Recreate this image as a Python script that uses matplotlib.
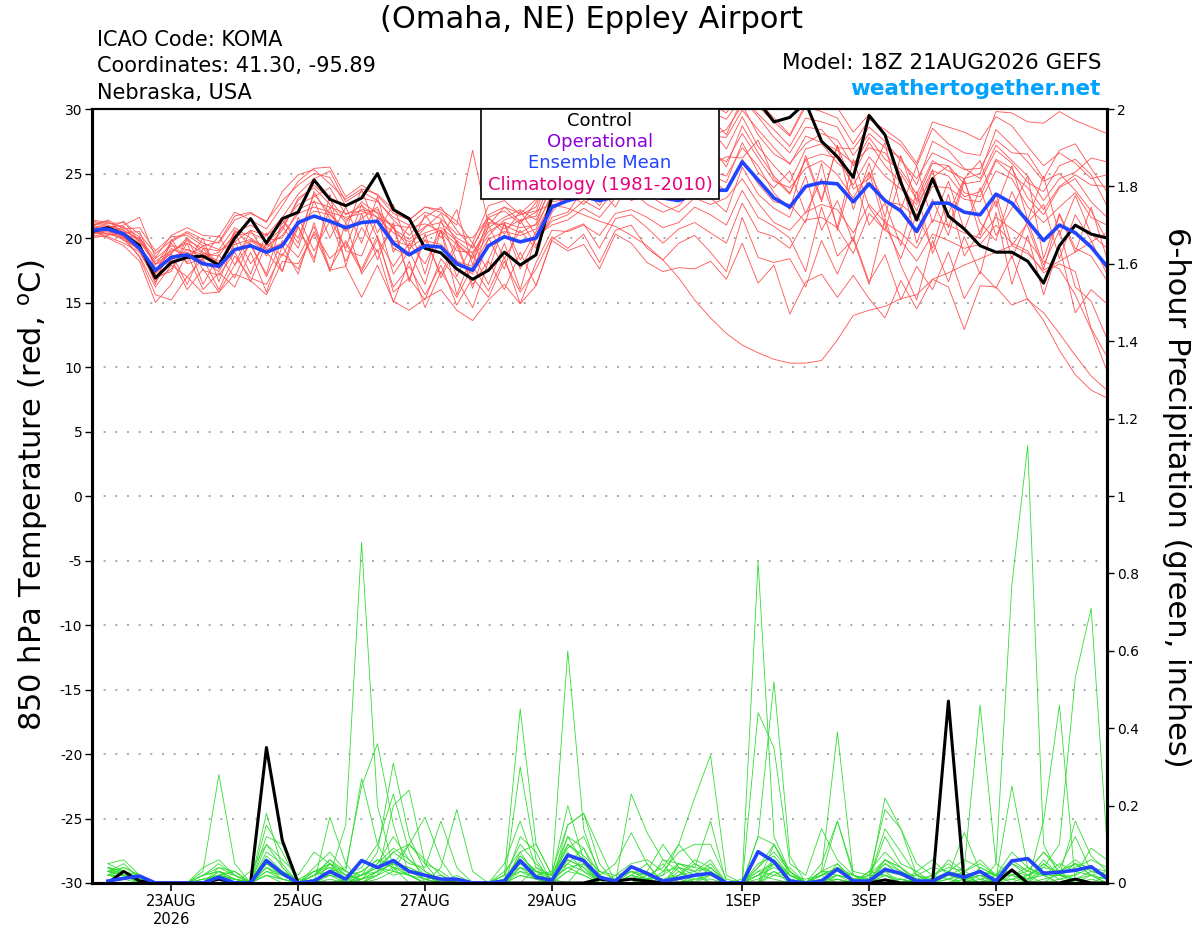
import matplotlib
matplotlib.use("Agg")
import matplotlib.pyplot as plt
import matplotlib.patches as patches
import pandas as pd

# 6-hourly steps from the 18Z 21AUG2026 run
times = pd.date_range("2026-08-21 18:00", periods=65, freq="6h")
ptimes = times[1:]

tick_dates = pd.to_datetime(["2026-08-23", "2026-08-25", "2026-08-27", "2026-08-29",
                             "2026-09-01", "2026-09-03", "2026-09-05"])
tick_labels = ["23AUG\n2026", "25AUG", "27AUG", "29AUG", "1SEP", "3SEP", "5SEP"]

# control run, 850 hPa temperature (C)
control_t = [20.5, 20.8, 20.3, 19.4, 16.9, 18.1, 18.5, 18.6,
             17.9, 20.0, 21.5, 19.6, 21.5, 22.0, 24.5, 23.0,
             22.5, 23.1, 25.0, 22.2, 21.5, 19.2, 18.85, 17.6,
             16.8, 17.5, 18.9, 17.9, 18.7, 23.2, 25.0, 26.0,
             26.5, 27.5, 27.0, 28.0, 28.5, 29.5, 30.5, 31.0,
             31.5, 31.2, 30.6, 29.0, 29.35, 30.5, 27.5, 26.3,
             24.7, 29.5, 28.0, 24.3, 21.4, 24.6, 21.7, 20.7,
             19.4, 18.9, 18.9, 18.2, 16.5, 19.4, 21.0, 20.3,
             20.0]

# ensemble mean, 850 hPa temperature (C)
mean_t = [20.6, 20.7, 20.3, 19.2, 17.5, 18.5, 18.7, 18.0,
          17.8, 19.1, 19.4, 18.9, 19.4, 21.2, 21.7, 21.3,
          20.8, 21.2, 21.3, 19.6, 18.7, 19.4, 19.3, 18.0,
          17.5, 19.4, 20.1, 19.7, 20.0, 22.4, 22.9, 23.2,
          22.9, 23.2, 23.4, 23.3, 23.1, 22.9, 23.4, 23.7,
          23.7, 25.9, 24.5, 23.1, 22.4, 24.0, 24.3, 24.2,
          22.8, 24.2, 22.9, 22.1, 20.5, 22.7, 22.7, 22.0,
          21.8, 23.4, 22.7, 21.3, 19.8, 21.0, 20.4, 19.3,
          17.8]

# ensemble members, 850 hPa temperature (C)
temp_members = [
    [21.2, 21.0, 20.6, 19.8, 18.2, 19.0, 19.6, 18.8, 18.6, 20.4, 21.0, 20.2, 21.6, 23.4, 24.6, 25.2,
     22.8, 23.6, 22.9, 21.4, 20.2, 21.6, 22.4, 20.6, 19.2, 21.8, 22.4, 21.3, 22.0, 25.6, 27.2, 28.4,
     27.6, 28.8, 29.6, 28.2, 27.4, 28.9, 30.6, 29.8, 29.2, 31.0, 29.6, 28.4, 27.1, 29.3, 29.0, 28.6,
     26.4, 28.1, 27.0, 26.2, 24.1, 27.5, 26.8, 25.4, 24.6, 27.2, 26.0, 24.8, 22.9, 24.6, 25.1, 26.2, 25.9],
    [20.1, 20.4, 19.9, 18.6, 16.2, 17.9, 17.0, 18.4, 16.0, 18.6, 16.9, 16.4, 18.8, 17.6, 20.5, 18.4,
     19.6, 17.4, 19.9, 16.2, 17.8, 15.6, 17.9, 14.8, 16.9, 15.4, 18.2, 15.8, 17.6,
     20.1, 19.2, 20.3, 18.1, 20.6, 21.0, 19.2, 18.3, 19.6, 20.2, 18.9, 17.4, 21.6, 18.5, 18.1,
     18.4, 16.2, 19.8, 17.2, 20.1, 16.6, 18.7, 15.2, 17.8, 16.0, 18.9, 15.3, 17.4, 16.1, 18.6, 15.2,
     14.2, 12.6, 10.9, 9.3, 8.2],
    [20.8, 20.9, 20.6, 19.9, 18.0, 18.3, 19.1, 18.7, 18.2, 19.0, 19.8, 19.4, 20.2, 21.9, 22.4, 22.0,
     21.6, 21.9, 22.2, 20.8, 19.2, 20.1, 20.6, 19.5, 18.4, 20.2, 21.4, 21.8, 22.1, 22.6, 22.3, 21.8,
     21.3, 20.9, 20.2, 19.4, 18.3, 16.9, 15.2, 13.8, 12.6, 11.7, 11.1, 10.6, 10.3, 10.3, 10.5, 12.1,
     14.0, 14.4, 14.7, 15.3, 15.6, 16.8, 17.3, 17.9, 18.4, 18.9, 19.4, 18.8, 17.5, 18.2, 18.9, 19.7, 20.4],
    [21.4, 21.2, 20.8, 20.1, 17.9, 19.7, 20.4, 19.6, 19.1, 20.8, 20.0, 19.2, 20.6, 23.1, 23.9, 22.6,
     21.2, 22.8, 21.9, 19.8, 19.4, 20.8, 21.9, 19.6, 18.5, 21.2, 21.0, 20.4, 21.1, 24.3, 26.4, 25.5,
     25.8, 27.6, 26.8, 27.4, 25.9, 26.3, 27.8, 28.5, 26.9, 29.4, 27.1, 25.6, 24.3, 26.9, 27.3, 25.8,
     24.9, 27.4, 25.6, 24.3, 22.1, 25.2, 24.8, 23.2, 23.6, 26.1, 25.4, 23.1, 21.8, 23.9, 24.6, 22.8, 21.6],
    [20.3, 20.5, 20.1, 18.5, 15.6, 15.2, 17.0, 15.7, 15.8, 17.2, 16.7, 15.6, 18.2, 18.0, 20.3, 17.5,
     17.8, 15.4, 17.9, 15.1, 14.4, 15.3, 16.0, 14.4, 13.6, 15.2, 16.4, 14.9, 16.3, 19.8, 19.0, 19.5,
     17.6, 20.3, 19.6, 18.1, 17.4, 17.7, 17.6, 18.2, 16.8, 19.6, 16.5, 17.9, 14.1, 16.6, 17.2, 15.4,
     17.1, 15.3, 13.8, 16.7, 14.5, 16.8, 16.2, 12.9, 16.3, 16.2, 14.8, 15.3, 13.6, 11.3, 9.4, 8.2, 7.6],
    [20.9, 20.6, 19.8, 19.4, 17.2, 18.6, 18.9, 18.2, 17.4, 19.5, 19.9, 19.1, 19.6, 21.0, 22.1, 21.8,
     20.5, 21.5, 22.4, 19.2, 18.6, 19.8, 19.5, 18.2, 17.8, 19.9, 20.5, 20.2, 20.7, 23.5, 24.6, 26.0,
     25.1, 26.2, 27.5, 26.8, 26.2, 25.3, 27.0, 27.9, 28.4, 30.3, 28.0, 26.5, 25.8, 27.3, 28.1, 27.6,
     25.6, 27.8, 26.1, 25.3, 23.4, 26.0, 25.2, 24.6, 25.0, 28.4, 27.2, 25.9, 24.4, 25.0, 23.7, 22.1, 19.8],
    [20.4, 20.8, 21.0, 21.6, 18.5, 20.2, 20.8, 20.2, 20.1, 22.0, 21.4, 20.7, 22.5, 24.4, 25.4, 25.5,
     23.2, 24.1, 23.3, 21.9, 21.4, 22.4, 22.2, 21.3, 19.6, 22.5, 22.9, 21.8, 22.4, 26.1, 27.5, 28.9,
     28.2, 29.4, 30.4, 29.1, 28.6, 29.5, 31.0, 30.8, 30.2, 32.0, 30.6, 29.3, 28.0, 30.4, 30.8, 30.1,
     28.2, 29.6, 28.0, 27.2, 25.6, 28.5, 27.3, 26.6, 26.4, 29.8, 29.7, 29.0, 28.9, 29.8, 29.1, 28.6, 28.1],
    [20.7, 20.3, 20.9, 19.6, 16.4, 19.9, 18.1, 20.0, 16.6, 19.8, 17.2, 20.4, 17.4, 21.6, 19.0, 21.3,
     18.2, 20.8, 18.9, 20.9, 16.8, 19.9, 17.2, 19.8, 16.1, 20.0, 17.6, 21.4, 19.4,
     21.6, 22.0, 23.8, 22.5, 24.5, 25.2, 24.1, 23.6, 24.2, 25.5, 24.9, 24.3, 27.4, 25.1, 23.9,
     25.2, 21.9, 24.6, 20.8, 26.1, 22.4, 20.6, 24.8, 19.6, 23.0, 20.2, 24.4, 21.2, 19.8, 23.6, 20.9,
     17.6, 21.8, 18.9, 22.4, 18.4],
    [21.0, 21.3, 20.4, 20.5, 17.6, 18.9, 19.8, 19.2, 19.0, 19.7, 20.6, 20.2, 21.1, 22.6, 23.2, 23.9,
     21.8, 22.5, 21.6, 21.0, 20.8, 21.1, 20.5, 19.0, 18.9, 20.8, 21.6, 22.2, 21.4, 24.0, 25.3, 24.7,
     24.0, 25.4, 26.1, 25.5, 24.8, 26.0, 26.6, 27.2, 25.5, 28.7, 26.6, 24.8, 23.5, 26.1, 26.5, 26.2,
     24.1, 26.3, 24.8, 23.8, 22.6, 24.7, 25.6, 23.5, 23.2, 26.0, 24.9, 23.9, 22.2, 24.0, 24.9, 24.1, 24.0],
    [20.2, 20.1, 19.6, 18.9, 16.8, 17.6, 19.6, 16.4, 18.7, 16.9, 19.8, 18.9, 17.4, 20.9, 18.4, 22.4,
     19.0, 18.6, 21.6, 17.2, 19.0, 16.4, 20.6, 15.6, 18.8, 16.4, 19.6, 16.0, 20.2,
     21.0, 21.4, 22.3, 21.6, 23.1, 23.7, 22.6, 22.0, 22.5, 23.8, 23.1, 22.0, 25.5, 23.4, 22.3,
     21.6, 24.8, 20.6, 22.9, 19.7, 25.1, 21.0, 18.4, 21.9, 19.2, 23.4, 18.6, 20.5, 22.9, 18.4, 21.3,
     17.9, 20.6, 16.2, 15.1, 12.2],
    [21.3, 21.1, 21.2, 20.3, 18.8, 19.8, 20.5, 19.9, 19.6, 21.4, 21.9, 21.3, 22.9, 24.1, 25.0, 24.7,
     22.5, 23.1, 22.8, 21.6, 21.0, 22.0, 21.5, 20.3, 20.0, 21.6, 22.1, 21.1, 22.8, 25.0, 26.0, 27.1,
     26.4, 27.0, 28.1, 27.9, 27.0, 27.6, 28.7, 29.3, 28.0, 30.8, 29.4, 27.8, 26.6, 28.6, 28.4, 27.0,
     26.9, 28.6, 27.5, 26.0, 24.6, 26.6, 26.0, 25.3, 25.4, 27.6, 26.6, 26.5, 24.6, 26.8, 27.3, 25.4, 23.6],
    [20.6, 20.0, 19.4, 18.2, 15.0, 16.4, 18.8, 16.0, 17.3, 16.2, 18.9, 15.8, 19.4, 17.2, 21.2, 17.6,
     19.8, 17.6, 20.2, 15.8, 16.9, 15.2, 18.4, 16.8, 14.6, 18.2, 16.0, 18.9, 16.3,
     19.9, 20.6, 21.1, 19.2, 21.5, 21.8, 20.8, 19.6, 20.7, 21.2, 20.4, 19.6, 22.7, 20.5, 20.1,
     19.2, 21.4, 21.6, 20.8, 18.8, 21.9, 20.6, 19.8, 18.2, 20.3, 19.8, 19.2, 19.5, 21.0, 19.6, 19.0,
     17.3, 18.0, 17.4, 13.0, 10.8],
    [20.5, 20.6, 20.0, 19.1, 17.4, 19.6, 18.0, 18.4, 20.2, 17.9, 20.6, 18.6, 20.9, 19.2, 22.9, 20.0,
     22.4, 19.6, 23.2, 18.9, 21.0, 17.2, 21.4, 18.2, 17.2, 21.0, 18.4, 20.6, 19.2,
     22.0, 23.5, 22.6, 23.8, 22.4, 24.6, 24.8, 25.2, 23.4, 24.4, 25.6, 26.3, 26.2, 27.6, 24.6,
     23.4, 26.1, 22.8, 27.2, 23.8, 24.6, 27.4, 22.2, 25.6, 21.2, 24.4, 20.6, 23.9, 20.2, 22.3, 24.8,
     18.4, 21.9, 19.2, 18.6, 16.7],
    [21.1, 20.9, 20.2, 20.0, 18.4, 19.4, 19.1, 18.5, 18.9, 20.2, 20.4, 19.8, 20.0, 22.2, 22.8, 22.4,
     21.9, 22.1, 21.6, 20.4, 19.7, 20.4, 20.8, 19.8, 18.8, 20.5, 21.2, 20.8, 21.0, 23.2, 24.1, 24.3,
     24.6, 25.2, 24.9, 25.9, 24.0, 25.1, 25.8, 26.6, 25.9, 28.1, 26.2, 24.4, 23.9, 25.4, 26.0, 24.9,
     23.1, 25.1, 22.8, 22.6, 21.6, 24.0, 23.9, 23.0, 22.8, 25.2, 24.6, 22.4, 21.2, 22.4, 23.5, 21.6, 21.0],
    [20.0, 20.2, 20.5, 19.5, 17.0, 17.4, 20.0, 17.5, 17.1, 18.9, 16.6, 19.6, 18.6, 20.9, 18.1, 23.4,
     17.8, 21.9, 18.3, 21.2, 16.6, 20.3, 16.9, 19.4, 16.4, 18.3, 21.1, 17.6, 19.9,
     21.3, 21.8, 22.9, 22.2, 23.8, 22.9, 23.4, 22.6, 22.0, 23.1, 22.6, 23.1, 24.6, 22.7, 21.2,
     20.6, 22.0, 22.6, 22.2, 20.4, 22.6, 21.2, 20.4, 19.2, 21.4, 21.0, 20.4, 20.0, 21.6, 20.7, 19.8,
     18.2, 17.6, 15.6, 12.9, 9.7],
    [20.9, 21.4, 20.7, 20.8, 19.0, 20.1, 20.2, 19.4, 19.7, 21.7, 22.0, 21.2, 23.6, 24.9, 25.3, 24.2,
     23.0, 23.8, 23.4, 22.2, 21.4, 22.4, 22.0, 21.0, 26.8, 21.0, 22.4, 21.9, 23.0, 25.2, 26.8, 27.7,
     27.0, 28.2, 29.3, 28.5, 27.8, 28.1, 29.6, 30.4, 29.7, 31.4, 30.2, 29.0, 27.9, 30.2, 29.8, 29.3,
     27.3, 29.2, 28.4, 27.5, 25.8, 29.0, 28.6, 28.2, 27.6, 29.4, 28.7, 27.1, 25.6, 26.6, 25.8, 24.6, 24.9],
    [20.3, 20.6, 20.4, 19.3, 16.9, 18.8, 16.4, 19.2, 17.6, 20.6, 19.4, 17.2, 21.4, 19.6, 23.6, 21.5,
     19.2, 22.6, 20.0, 17.8, 19.6, 18.0, 20.6, 17.0, 19.6, 17.4, 21.2, 18.3, 20.5,
     22.8, 23.0, 23.5, 23.3, 24.0, 23.3, 24.4, 23.9, 22.9, 24.0, 24.6, 23.6, 26.1, 24.2, 22.8,
     22.6, 21.2, 25.8, 20.6, 24.9, 21.0, 22.7, 19.4, 23.6, 18.8, 21.9, 24.6, 20.2, 23.4, 19.4, 21.2,
     22.6, 18.4, 21.8, 19.8, 17.2],
    [21.0, 20.7, 21.3, 19.7, 18.0, 18.8, 20.0, 18.9, 18.0, 20.0, 21.5, 19.6, 20.8, 22.9, 24.1, 23.0,
     21.4, 22.2, 22.0, 20.7, 19.9, 20.9, 21.2, 20.0, 19.3, 21.5, 20.7, 21.4, 21.7, 24.6, 25.6, 26.2,
     26.0, 26.6, 27.2, 26.4, 26.5, 27.1, 26.7, 27.9, 27.8, 29.9, 28.4, 27.0, 25.7, 27.9, 27.4, 26.8,
     25.8, 27.0, 26.6, 25.0, 23.0, 25.8, 25.6, 24.2, 24.4, 26.8, 25.8, 24.3, 23.6, 25.6, 26.1, 24.9, 22.5],
    [20.4, 20.3, 20.0, 19.0, 16.6, 18.4, 16.0, 17.6, 15.8, 17.9, 19.6, 17.0, 19.8, 18.5, 20.9, 17.4,
     21.2, 17.2, 19.1, 15.0, 18.2, 14.6, 17.4, 15.4, 17.8, 15.9, 18.5, 14.9, 18.1,
     20.6, 20.5, 21.0, 20.2, 21.9, 22.2, 21.6, 20.8, 21.2, 22.4, 21.8, 21.0, 23.7, 21.6, 20.9,
     20.0, 17.4, 22.4, 18.6, 19.9, 16.4, 21.5, 17.9, 15.2, 19.8, 16.6, 20.1, 17.2, 22.0, 16.4, 20.2,
     15.6, 19.4, 14.2, 16.0, 14.9],
    [20.6, 20.8, 20.1, 19.2, 17.3, 19.2, 18.5, 19.4, 17.9, 20.4, 18.0, 19.5, 21.4, 20.0, 23.4, 21.9,
     20.6, 23.8, 20.4, 22.6, 19.0, 21.8, 20.0, 22.2, 17.9, 21.6, 20.3, 22.1, 20.2,
     22.9, 23.9, 23.1, 24.3, 23.4, 25.6, 24.0, 23.6, 24.6, 24.8, 25.2, 24.8, 27.0, 25.6, 23.5,
     22.2, 26.4, 23.0, 27.1, 22.2, 25.8, 21.6, 26.4, 22.8, 25.3, 20.8, 24.6, 26.0, 22.4, 25.6, 21.4,
     24.8, 20.2, 23.3, 20.3, 19.2],
]

# 6-hour precipitation (inches), from 22AUG 00Z
control_p = [0, .03, .005, 0, 0, 0, 0, .01, 0, 0, .35, .11,
             0, 0, 0, 0, 0, 0, 0, 0, 0, 0, 0, 0, 0,
             0, 0, 0, 0, 0, 0, .01, .005, .01, .005, 0, 0, 0,
             0, 0, 0, 0, 0, 0, 0, 0, 0, 0, 0, .008, 0,
             0, 0, .47, 0, 0, 0, .034, 0, 0, 0, .01, 0, 0]

mean_p = [.005, .012, .018, 0, 0, 0, 0, .015, 0, 0, .058, .025,
          0, .005, .03, .01, .058, .04, .058, .03, .02, .01, .01, 0, 0,
          .005, .058, .015, .007, .072, .058, .015, .005, .042, .025, .005, .012, .02,
          .025, 0, 0, .081, .055, .005, 0, .005, .036, .005, .005, .035, .025,
          .005, .005, .025, .015, .03, .005, .057, .063, .025, .028, .033, .042, .012]

precip_members = [
    [.04, .02, 0, 0, 0, 0, 0, .02, .03, 0, .06, .02,
     0, .01, .02, .15, .88, .20, .04, 0, 0, 0, .01, 0, 0,
     0, .08, .02, 0, 0, .05, 0, 0, 0, .02, 0, 0, 0,
     0, 0, 0, 0, .05, 0, 0, 0, .01, 0, 0, .02, 0,
     0, 0, 0, .02, 0, 0, 0, 0, 0, .01, 0, 0, 0],
    [.04, .03, .01, 0, 0, 0, .03, .28, .05, 0, .02, 0,
     0, 0, .03, .04, .25, .36, .15, .02, 0, 0, 0, 0, 0,
     0, 0, .04, .01, 0, 0, 0, 0, .02, .05, 0, 0, 0,
     0, 0, 0, 0, 0, 0, 0, .03, .39, .02, 0, 0, .01,
     0, 0, 0, 0, 0, .02, 0, 0, 0, .03, 0, 0, 0],
    [.03, .04, .02, 0, 0, 0, 0, .01, 0, .03, .10, .04,
     0, 0, .05, 0, .02, .08, .31, .12, .03, 0, 0, 0, 0,
     .05, .16, .04, .02, .60, .14, .02, 0, 0, 0, .03, .04, 0,
     0, 0, 0, .12, .10, .03, 0, .02, 0, 0, 0, 0, .01,
     0, 0, 0, 0, 0, .01, .25, .04, .02, 0, 0, 0, .02],
    [.04, .02, 0, 0, 0, 0, 0, .02, .03, 0, .15, .08,
     0, .02, .06, .03, 0, .02, .20, .24, .05, 0, 0, 0, 0,
     .02, .45, .10, .02, .05, .09, 0, 0, .03, .01, .05, 0, 0,
     .02, 0, .01, .83, .12, .03, 0, 0, 0, 0, .03, .02, 0,
     .01, 0, 0, 0, .02, 0, 0, .02, 0, 0, 0, .01, 0],
    [.03, .05, .01, 0, 0, 0, 0, .04, .02, 0, .12, .10,
     0, 0, 0, 0, .06, .04, .03, .10, .17, .06, 0, 0, 0,
     0, .12, .08, 0, .15, .18, .09, 0, 0, .01, .02, .10, .22,
     .33, .02, 0, 0, .02, .04, 0, 0, .02, 0, 0, 0, 0,
     0, 0, .02, .04, .46, .05, .02, .04, .02, 0, 0, 0, 0],
    [.03, .02, .01, 0, 0, 0, .02, .03, 0, 0, .06, .03,
     0, .03, .04, 0, .01, .03, .08, .05, .04, .16, .04, 0, 0,
     0, .07, .03, .02, .12, .05, 0, 0, 0, 0, 0, .05, .04,
     .16, 0, 0, .44, .35, .05, .02, .14, .06, .02, .01, .14, .08,
     .02, 0, 0, .01, 0, 0, .03, .01, .02, .02, .16, .07, .03],
    [.05, .06, .02, 0, 0, 0, 0, .01, 0, 0, .05, .02,
     0, .02, .06, .02, .04, .10, .23, .08, 0, .04, .19, .03, 0,
     0, .30, .06, 0, .12, .09, .02, 0, 0, 0, .06, .03, 0,
     .04, 0, 0, .12, .52, .07, 0, .02, .16, .02, 0, .03, 0,
     0, .01, .06, .03, .01, .02, .03, 0, .05, .02, 0, 0, 0],
    [.02, .03, 0, 0, 0, 0, .04, .06, .02, 0, .08, .05,
     0, 0, .17, .05, 0, .03, .05, .02, 0, 0, 0, 0, 0,
     .03, .08, .10, .02, .20, .06, 0, .02, .03, .01, 0, 0, .02,
     0, 0, 0, 0, .03, .01, 0, 0, .05, 0, .02, .02, 0,
     .03, 0, .01, .02, 0, .05, .77, 1.13, .10, .02, .05, .02, 0],
    [.03, .02, .02, 0, 0, 0, 0, .03, .01, 0, .10, .06,
     .02, .08, .05, .03, .27, .10, .03, .02, 0, 0, .02, 0, 0,
     .01, .05, .02, .03, .15, .18, .05, 0, .23, .13, .06, .05, .04,
     .03, 0, 0, 0, .10, .03, 0, .02, .04, .02, 0, .22, .14,
     .05, .02, .04, .03, .06, .02, .03, .01, .06, .02, .02, .04, .02],
    [.05, .03, .01, 0, 0, 0, .02, .04, .03, 0, .04, .02,
     .01, 0, .03, .01, .02, .05, .09, .06, .02, 0, 0, 0, 0,
     0, .06, .03, 0, .10, .07, .03, .02, .05, .06, .03, .08, .10,
     .10, .01, 0, 0, .06, .02, 0, .03, .03, .01, .02, .19, .14,
     .02, .01, .03, .06, .04, .02, .05, .03, .02, .03, .05, .04, .03],
    [.04, .02, 0, 0, 0, 0, 0, .02, 0, 0, .07, .03,
     0, .02, .04, .02, .03, .06, .05, .10, .06, .02, 0, 0, 0,
     .02, .04, .01, 0, .06, .04, 0, 0, 0, .02, 0, .04, .03,
     0, 0, 0, .05, .07, .02, 0, .03, .02, .01, 0, .05, .03,
     0, 0, 0, 0, .01, 0, .03, 0, .16, .46, 0, .02, 0],
    [.03, .02, .01, 0, 0, 0, .01, .02, .01, 0, .04, .02,
     0, .01, .02, .01, 0, .02, .04, .03, .01, 0, 0, 0, 0,
     0, .03, .01, 0, .05, .03, 0, 0, .02, 0, 0, .01, 0,
     0, 0, 0, .03, .02, .01, 0, .02, .04, 0, .01, .06, .04,
     .01, 0, 0, .02, .03, .01, .05, .02, .04, .10, .53, .71, .10],
    [.02, .04, .02, 0, 0, 0, 0, .03, .02, 0, .03, .01,
     0, 0, .01, 0, .02, .04, .02, .03, .01, 0, 0, 0, 0,
     0, .02, .01, 0, .03, .06, .02, .05, .13, .05, 0, .02, .05,
     .02, 0, 0, .02, .04, .02, 0, .05, .16, .03, .02, .06, .04,
     .01, 0, .02, .13, .03, .02, .06, .03, .08, .04, .12, .03, .02],
    [.04, .03, 0, 0, 0, 0, .02, .03, .01, 0, .02, .01,
     0, .03, .05, .02, .01, .03, .05, .04, .02, 0, 0, 0, 0,
     0, .04, .02, .01, .04, .02, 0, 0, .01, .03, .10, .04, .02,
     .05, 0, 0, .02, .05, .01, 0, 0, .02, .01, 0, .03, .02,
     0, .02, .05, .02, 0, 0, .02, 0, .03, .01, .02, .09, .06],
    [.02, .02, 0, 0, 0, 0, .01, .01, 0, 0, .02, .01,
     0, 0, 0, .01, .03, .06, .04, .02, .01, .02, 0, 0, 0,
     .01, .03, .02, .01, .08, .03, .01, 0, 0, 0, 0, 0, .01,
     .02, 0, 0, .01, .03, 0, 0, .01, .01, 0, .03, .08, .04,
     0, .01, .02, .01, .02, 0, .01, .02, .05, .02, .01, .02, .01],
    [.03, .02, .01, 0, 0, 0, 0, .02, .01, 0, .03, .02,
     0, .02, .03, 0, .01, .05, .12, .06, .03, .01, 0, 0, 0,
     .02, .10, .05, .01, .06, .04, 0, 0, .02, .01, 0, .02, .03,
     .04, 0, 0, .04, .10, .02, 0, .03, .05, .01, .01, .05, .02,
     .02, 0, .01, 0, .04, .02, .02, .03, .08, .03, .06, .03, .02],
    [.02, .01, 0, 0, 0, 0, .02, .05, .02, 0, .18, .04,
     0, .04, .08, .03, .02, .04, .08, .10, .05, .03, 0, 0, 0,
     .01, .07, .03, .02, .09, .12, .03, .01, .03, .02, .01, .02, .06,
     .04, 0, 0, .02, .06, .02, .01, .02, .03, .02, .01, .12, .05,
     .03, .06, .02, .01, .02, .01, .03, .02, .04, .03, .05, .02, .01],
    [.03, .03, .02, 0, 0, 0, 0, .01, .01, 0, .05, .02,
     0, .02, .05, .01, .01, .02, .06, .03, .02, 0, 0, 0, 0,
     0, .05, .03, .01, .04, .05, .01, .01, .03, .02, .04, .10, .05,
     .03, 0, 0, .03, .05, .02, 0, .01, .02, .01, 0, .04, .02,
     .02, .04, .03, .02, .03, .02, .08, .04, .02, .05, .03, .02, .03],
    [.02, .02, .01, 0, 0, 0, 0, .02, .01, 0, .04, .01,
     0, 0, .02, 0, 0, .01, .03, .02, 0, 0, 0, 0, 0,
     0, .02, .01, 0, .03, .02, 0, 0, 0, .01, 0, .03, .01,
     .01, 0, 0, .02, .01, 0, 0, 0, .01, 0, 0, .02, .01,
     0, 0, 0, .01, .02, .01, .01, 0, .01, .02, .01, .03, .02],
    [.03, .02, .01, 0, 0, 0, .01, .02, 0, 0, .05, .03,
     .01, .03, .02, .01, .02, .03, .05, .04, .02, 0, 0, 0, 0,
     0, .04, .03, .02, .10, .06, .01, 0, .02, .01, .02, .05, .03,
     .06, 0, 0, .04, .08, .03, 0, .02, .04, .01, 0, .06, .03,
     .01, .02, .01, .03, .05, .02, .02, .01, .03, .02, .04, .06, .04],
]

W, H = 1200, 927
fig = plt.figure(figsize=(W / 100, H / 100), dpi=100)
ax = fig.add_axes([92 / W, 1 - 883 / H, 1015 / W, 774 / H])
ax2 = ax.twinx()

# temperature spaghetti
for m in temp_members:
    ax.plot(times, m, color="#ff5252", lw=0.6)
ax.plot(times, control_t, color="black", lw=2.2)
ax.plot(times, mean_t, color="#2244ff", lw=2.6)

# precipitation spaghetti
for g in precip_members:
    ax2.plot(ptimes, g, color="#33dd33", lw=0.6)
ax2.plot(ptimes, control_p, color="black", lw=2.2)
ax2.plot(ptimes, mean_p, color="#2244ff", lw=2.6)

ax.set_xlim(times[0], times[-1])
ax.set_ylim(-30, 30)
ax2.set_ylim(0, 2)

ax.set_yticks(range(-30, 31, 5))
ax.set_yticklabels([str(v) for v in range(-30, 31, 5)])
rt = [0, 0.2, 0.4, 0.6, 0.8, 1, 1.2, 1.4, 1.6, 1.8, 2]
ax2.set_yticks(rt)
ax2.set_yticklabels(["%g" % v for v in rt])
ax.set_xticks(tick_dates)
ax.set_xticklabels(tick_labels)

ax.yaxis.grid(True, linestyle=(0, (1, 5)), color="#a8a8a8", lw=1.4)
ax.xaxis.grid(False)

ax.tick_params(axis="y", direction="out", length=5, width=1, labelsize=10, pad=2)
ax2.tick_params(axis="y", direction="out", length=5, width=1, labelsize=10, pad=2)
ax.tick_params(axis="x", direction="out", length=6, width=1.2, labelsize=10.5, pad=2)

for a in (ax, ax2):
    for side in ("left", "right", "bottom"):
        a.spines[side].set_linewidth(2.2)
    a.spines["top"].set_linewidth(1.5)

# header text
fig.text(591 / W, 1 - 20 / H, "(Omaha, NE) Eppley Airport", ha="center", va="center", fontsize=22)
fig.text(97 / W, 1 - 40 / H, "ICAO Code: KOMA", ha="left", va="center", fontsize=15)
fig.text(97 / W, 1 - 66 / H, "Coordinates: 41.30, -95.89", ha="left", va="center", fontsize=15)
fig.text(97 / W, 1 - 93 / H, "Nebraska, USA", ha="left", va="center", fontsize=15)
fig.text(1101 / W, 1 - 63 / H, "Model: 18Z 21AUG2026 GEFS", ha="right", va="center", fontsize=15.5)
fig.text(1101 / W, 1 - 89 / H, "weathertogether.net", ha="right", va="center",
         fontsize=15.5, fontweight="bold", color="#00a2ff")

# axis titles
fig.text(33 / W, 1 - 495 / H, "850 hPa Temperature (red, $^{\\mathrm{o}}$C)", rotation=90,
         ha="center", va="center", fontsize=22)
fig.text(1177 / W, 1 - 497 / H, "6-hour Precipitation (green, inches)", rotation=270,
         ha="center", va="center", fontsize=22)

# legend box
box = patches.Rectangle((481 / W, 1 - 199 / H), 238 / W, 90 / H, transform=fig.transFigure,
                        facecolor="white", edgecolor="black", lw=1.2)
fig.add_artist(box)
leg = [("Control", "black", 121), ("Operational", "#8a00e0", 142),
       ("Ensemble Mean", "#2244ff", 163), ("Climatology (1981-2010)", "#e6007e", 185)]
for txt, col, yy in leg:
    fig.text(600 / W, 1 - yy / H, txt, ha="center", va="center", fontsize=13, color=col)

fig.savefig("out.png", dpi=100)
